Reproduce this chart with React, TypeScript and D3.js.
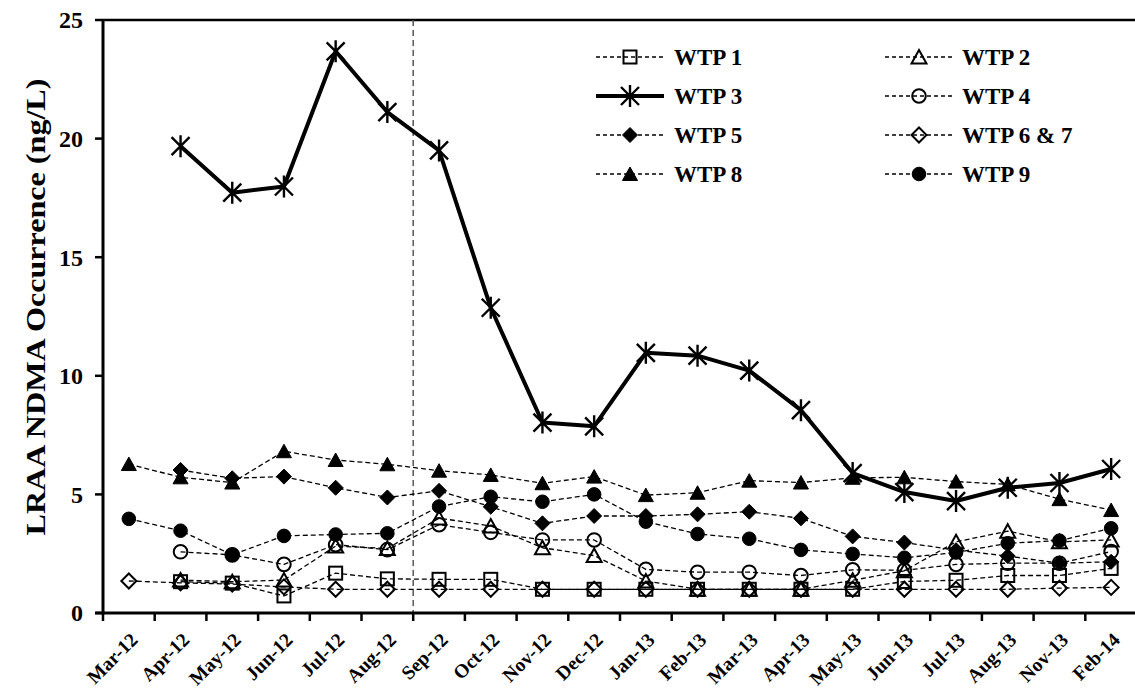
import React from "react";
import * as d3 from "d3";

const categories = ["Mar-12","Apr-12","May-12","Jun-12","Jul-12","Aug-12","Sep-12","Oct-12","Nov-12","Dec-12","Jan-13","Feb-13","Mar-13","Apr-13","May-13","Jun-13","Jul-13","Aug-13","Nov-13","Feb-14"];

const wtp1 = [null, 1.32, 1.26, 0.72, 1.68, 1.44, 1.42, 1.42, 1.0, 1.0, 1.0, 1.0, 1.0, 1.0, 1.0, 1.33, 1.38, 1.58, 1.58, 1.88];
const wtp2 = [null, 1.39, 1.32, 1.39, 2.82, 2.72, 4.0, 3.67, 2.75, 2.42, 1.35, 1.0, 1.0, 1.0, 1.38, 1.78, 3.0, 3.45, 3.0, 3.08];
const wtp3 = [null, 19.68, 17.72, 17.98, 23.68, 21.12, 19.5, 12.87, 8.03, 7.87, 10.97, 10.85, 10.22, 8.55, 5.9, 5.1, 4.72, 5.28, 5.48, 6.07];
const wtp4 = [null, 2.58, 2.45, 2.05, 2.88, 2.67, 3.72, 3.4, 3.08, 3.08, 1.84, 1.72, 1.72, 1.58, 1.82, 1.8, 2.05, 2.1, 2.1, 2.59];
const wtp5 = [null, 6.03, 5.68, 5.75, 5.28, 4.87, 5.15, 4.48, 3.78, 4.09, 4.09, 4.16, 4.27, 3.99, 3.23, 2.97, 2.65, 2.4, 2.1, 2.16];
const wtp67 = [1.35, 1.27, 1.22, 1.1, 1.0, 1.0, 1.0, 1.0, 1.0, 1.0, 1.0, 1.0, 1.0, 1.0, 1.0, 1.0, 1.0, 1.0, 1.05, 1.08];
const wtp8 = [6.28, 5.72, 5.5, 6.82, 6.45, 6.27, 6.0, 5.82, 5.47, 5.75, 4.97, 5.07, 5.58, 5.5, 5.7, 5.72, 5.54, 5.42, 4.8, 4.34];
const wtp9 = [3.97, 3.47, 2.45, 3.25, 3.31, 3.36, 4.49, 4.9, 4.69, 5.0, 3.85, 3.33, 3.13, 2.66, 2.49, 2.33, 2.55, 2.94, 3.05, 3.57];

const yTicks = [0, 5, 10, 15, 20, 25];

type Marker = "square" | "triangle" | "star" | "circle" | "diamond";
interface Series { name: string; values: (number | null)[]; marker: Marker; filled: boolean; solid: boolean; }

const series: Series[] = [
  { name: "WTP 1", values: wtp1, marker: "square", filled: false, solid: false },
  { name: "WTP 2", values: wtp2, marker: "triangle", filled: false, solid: false },
  { name: "WTP 3", values: wtp3, marker: "star", filled: false, solid: true },
  { name: "WTP 4", values: wtp4, marker: "circle", filled: false, solid: false },
  { name: "WTP 5", values: wtp5, marker: "diamond", filled: true, solid: false },
  { name: "WTP 6 & 7", values: wtp67, marker: "diamond", filled: false, solid: false },
  { name: "WTP 8", values: wtp8, marker: "triangle", filled: true, solid: false },
  { name: "WTP 9", values: wtp9, marker: "circle", filled: true, solid: false },
];

const FONT = "'Liberation Serif', 'Times New Roman', serif";
const W = 1135, H = 692;
const X0 = 103, X1 = 1137, Y0 = 613, Y1 = 20;

function markerEl(m: Marker, filled: boolean, x: number, y: number, key: string) {
  const fill = filled ? "#000" : "none";
  const sw = filled ? 1 : 2;
  if (m === "square") return <rect key={key} x={x - 6.5} y={y - 6.5} width={13} height={13} fill={fill} stroke="#000" strokeWidth={sw} />;
  if (m === "circle") return <circle key={key} cx={x} cy={y} r={6.8} fill={fill} stroke="#000" strokeWidth={sw} />;
  if (m === "triangle") return <path key={key} d={`M${x},${y - 7}L${x + 7.5},${y + 6.5}L${x - 7.5},${y + 6.5}Z`} fill={fill} stroke="#000" strokeWidth={sw} strokeLinejoin="miter" />;
  if (m === "diamond") return <path key={key} d={`M${x},${y - 7.5}L${x + 7.5},${y}L${x},${y + 7.5}L${x - 7.5},${y}Z`} fill={fill} stroke="#000" strokeWidth={sw} />;
  return (
    <path key={key} d={`M${x - 9},${y - 9}L${x + 9},${y + 9}M${x - 9},${y + 9}L${x + 9},${y - 9}M${x},${y - 11}L${x},${y + 11}`} stroke="#000" strokeWidth={2.4} fill="none" />
  );
}

export default function App() {
  const x = d3.scaleBand<string>().domain(categories).range([X0, X1]).padding(0);
  const bw = x.bandwidth();
  const y = d3.scaleLinear().domain([0, 25]).range([Y0, Y1]);
  const cx = (c: string) => (x(c) as number) + bw / 2;

  const line = d3.line<{ c: string; v: number | null }>()
    .defined((d) => d.v !== null)
    .x((d) => cx(d.c))
    .y((d) => y(d.v as number));

  const legendRows = [57, 96, 135, 174];
  const legendCols = [{ lx0: 596, lx1: 664, tx: 674 }, { lx0: 885, lx1: 953, tx: 962 }];

  return (
    <svg width={W} height={H} style={{ position: "absolute", left: 0, top: 0, background: "#fff" }} fontFamily={FONT}>
      <rect x={0} y={0} width={W} height={H} fill="#fff" />
      <line x1={X0} x2={W} y1={Y1} y2={Y1} stroke="#000" strokeWidth={2.5} />
      <line x1={x("Sep-12") as number} x2={x("Sep-12") as number} y1={Y1} y2={Y0} stroke="#555" strokeWidth={1.5} strokeDasharray="6,4" />

      {series.map((s, si) => {
        const pts = categories.map((c, i) => ({ c, v: s.values[i] }));
        return (
          <g key={s.name}>
            <path d={line(pts) || ""} fill="none" stroke="#000" strokeWidth={s.solid ? 4 : 1.3} strokeDasharray={s.solid ? undefined : "5,3"} strokeLinejoin="round" />
            {pts.filter((p) => p.v !== null).map((p, i) => markerEl(s.marker, s.filled, cx(p.c), y(p.v as number), `${si}-${i}`))}
          </g>
        );
      })}

      <line x1={X0} x2={X0} y1={Y1 - 1} y2={Y0 + 1.5} stroke="#000" strokeWidth={3} />
      {yTicks.map((t) => (
        <g key={t}>
          <line x1={X0 - 8} x2={X0} y1={y(t)} y2={y(t)} stroke="#000" strokeWidth={2.5} />
          <text x={83} y={y(t)} dy="0.35em" textAnchor="end" fontSize={24} fontWeight="bold">{t}</text>
        </g>
      ))}
      <line x1={X0 - 8} x2={W} y1={Y0} y2={Y0} stroke="#000" strokeWidth={3} />
      {categories.map((c, i) => (
        <line key={"t" + i} x1={x(c) as number} x2={x(c) as number} y1={Y0} y2={Y0 + 8} stroke="#000" strokeWidth={2.5} />
      ))}
      {categories.map((c) => (
        <text key={"l" + c} transform={`translate(${cx(c) + 10},${641}) rotate(-45)`} textAnchor="end" fontSize={19.5} fontWeight="bold">{c}</text>
      ))}

      <text transform={`translate(45,307) rotate(-90)`} textAnchor="middle" fontSize={28} fontWeight="bold" textLength={457} lengthAdjust="spacingAndGlyphs">LRAA NDMA Occurrence (ng/L)</text>

      {series.map((s, i) => {
        const col = legendCols[i % 2];
        const ry = legendRows[Math.floor(i / 2)];
        const mx = (col.lx0 + col.lx1) / 2;
        return (
          <g key={"lg" + s.name}>
            <line x1={col.lx0} x2={col.lx1} y1={ry} y2={ry} stroke="#000" strokeWidth={s.solid ? 4 : 1.3} strokeDasharray={s.solid ? undefined : "4,3"} />
            {markerEl(s.marker, s.filled, mx, ry, "lm" + i)}
            <text x={col.tx} y={ry} dy="0.35em" fontSize={23} fontWeight="bold">{s.name}</text>
          </g>
        );
      })}
    </svg>
  );
}
